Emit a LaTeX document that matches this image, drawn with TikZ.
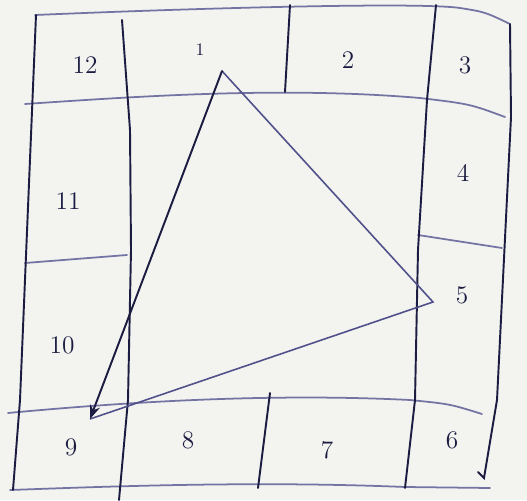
\documentclass[tikz,border=0pt]{standalone}
\usetikzlibrary{arrows.meta}
\definecolor{ink}{HTML}{1C1C42}
\definecolor{pale}{HTML}{7474A4}
\definecolor{mid}{HTML}{50508A}
\definecolor{paper}{HTML}{F3F4EF}
\tikzset{
  post/.style={draw=ink,line width=1.1pt,line cap=round},
  rail/.style={draw=pale,line width=1.0pt,line cap=round},
  num/.style={text=ink,font=\Large,inner sep=0pt},
  side/.style={draw=mid,line width=0.9pt}
}

\begin{document}
\begin{tikzpicture}[x=0.02cm,y=-0.02cm,>=Stealth]
  \fill[paper] (0,0) rectangle (527,500);
  \useasboundingbox (0,0) rectangle (527,500);

  % horizontal rails
  \draw[rail] (35,15) .. controls (200,8) and (420,2) .. (460,8) .. controls (485,12) .. (510,24);
  \draw[rail] (25,104) .. controls (130,97) and (280,86) .. (420,98) .. controls (470,104) .. (505,117);
  \draw[rail] (25,263) -- (127,255);
  \draw[rail] (418,235) -- (502,248);
  \draw[rail] (8,413) .. controls (125,402) and (270,393) .. (410,400) .. controls (450,404) .. (482,414);
  \draw[rail] (10,490) .. controls (120,486) and (260,481) .. (405,487) -- (490,488);

  % vertical posts
  \draw[post] (36,15) -- (20,400) -- (13,490);
  \draw[post] (122,20) -- (130,130) -- (131,250) -- (128,400) -- (119,500);
  \draw[post] (290,5) -- (285,92);
  \draw[post] (436,5) -- (427,100) -- (418,250) -- (415,400) -- (405,488);
  \draw[post] (510,24) -- (511,117) -- (497,400) -- (484,478) -- (478,472);
  \draw[post] (270,393) -- (258,488);

  % numbers
  \node[num] (n12) at (85,65) {12};
  \node[num,font=\normalsize] (n1) at (200,50) {1};
  \node[num] (n2) at (348,60) {2};
  \node[num] (n3) at (465,65) {3};
  \node[num] (n4) at (463,173) {4};
  \node[num] (n5) at (462,295) {5};
  \node[num] (n6) at (452,440) {6};
  \node[num] (n7) at (327,450) {7};
  \node[num] (n8) at (188,440) {8};
  \node[num] (n9) at (71,447) {9};
  \node[num] (n10) at (62,345) {10};
  \node[num] (n11) at (68,201) {11};

  % triangle
  \coordinate (a) at (222,71);
  \coordinate (b) at (433,302);
  \coordinate (c) at (90,419);
  \draw[side] (a) -- (b) -- (c);
  \draw[post,->] (a) -- (c);
\end{tikzpicture}
\end{document}
